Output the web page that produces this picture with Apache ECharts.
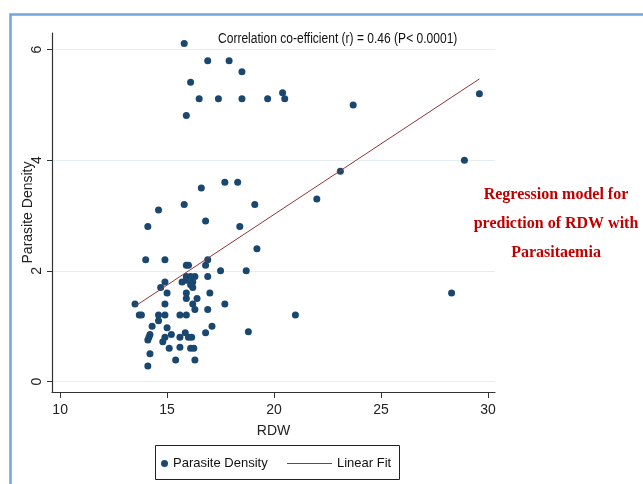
<!DOCTYPE html>
<html>
<head>
<meta charset="utf-8">
<script src="https://cdn.jsdelivr.net/npm/echarts@6/dist/echarts.min.js"></script>
<style>
  html, body { margin: 0; padding: 0; background: #fff; }
  #chart { width: 643px; height: 484px; }
</style>
</head>
<body>
<div id="chart"></div>
<script>
// RDW vs parasite density
var rdw = [
  15.8, 16.9, 17.9, 18.5, 16.1, 16.5, 17.4, 18.5, 19.7, 20.4, 20.5, 15.9, 23.7, 29.6, 28.9, 23.1,
  22.0, 17.7, 18.3, 16.6, 15.8, 14.6, 19.1, 14.1, 16.8, 18.4, 19.2, 14.0, 14.9, 15.9, 16.0, 16.8,
  16.9, 17.5, 18.7, 28.3, 21.0, 18.8, 17.7, 17.0, 16.9, 16.9, 17.1, 16.8,
  13.5, 13.7, 13.8, 14.6, 14.6, 14.9, 14.9, 15.0, 14.7, 14.9, 15.7, 15.9, 16.1, 16.3, 16.2, 16.2,
  15.9, 15.9, 16.2, 16.3, 16.4, 15.6, 15.9, 14.3, 14.2, 14.1, 14.15, 15.0, 14.9, 14.8, 15.2, 15.1,
  15.6, 15.6, 15.85, 16.0, 16.15, 16.1, 16.25, 14.2, 14.1, 15.4, 16.3, 15.9, 16.1
];
var density = [
  6.11, 5.8, 5.8, 5.6, 5.41, 5.11, 5.11, 5.11, 5.11, 5.22, 5.11, 4.81, 5.0, 5.2, 4.0, 3.8,
  3.3, 3.6, 3.6, 3.5, 3.2, 3.1, 3.2, 2.8, 2.9, 2.8, 2.4, 2.2, 2.2, 2.1, 2.1, 2.1,
  2.2, 2.0, 2.0, 1.6, 1.2, 0.9, 1.4, 1.6, 1.9, 1.3, 1.0, 0.88,
  1.4, 1.2, 1.2, 1.2, 1.1, 1.2, 1.4, 1.6, 1.7, 1.8, 1.8, 1.9, 1.9, 1.9, 1.8, 1.7,
  1.6, 1.5, 1.4, 1.3, 1.5, 1.2, 1.2, 1.0, 0.85, 0.75, 0.8, 0.97, 0.8, 0.72, 0.85, 0.6,
  0.8, 0.62, 0.88, 0.8, 0.8, 0.6, 0.6, 0.5, 0.28, 0.39, 0.39, 1.83, 1.75
];
// fitted line end points
var fitX = [13.5, 29.6];
var fitY = [1.36, 5.47];
var xTicks = [10, 15, 20, 25, 30];
var yTicks = [0, 2, 4, 6];

var sans = 'Liberation Sans, Arial, sans-serif';
var axisColor = '#333';

var points = rdw.map(function (x, i) { return [x, density[i]]; });
var fitLine = fitX.map(function (x, i) { return [x, fitY[i]]; });

var chart = echarts.init(document.getElementById('chart'));
chart.setOption({
  backgroundColor: '#fff',
  animation: false,
  grid: { left: 52, right: 148, top: 33, bottom: 92 },
  xAxis: {
    type: 'value',
    min: 9.62,
    max: 30.33,
    name: 'RDW',
    nameLocation: 'middle',
    nameGap: 32,
    nameTextStyle: { fontFamily: sans, fontSize: 14, color: '#222' },
    axisLine: { onZero: false, lineStyle: { color: axisColor, width: 1.2 } },
    axisTick: { show: true, length: 6, customValues: xTicks, lineStyle: { color: axisColor } },
    axisLabel: { customValues: xTicks, fontFamily: sans, fontSize: 14, color: '#222', margin: 11 },
    splitLine: { show: false }
  },
  yAxis: {
    type: 'value',
    min: -0.19,
    max: 6.3,
    name: 'Parasite Density',
    nameLocation: 'middle',
    nameGap: 17,
    nameRotate: 90,
    nameMoveOverlap: false,
    nameTextStyle: { fontFamily: sans, fontSize: 14, color: '#222' },
    axisLine: { show: true, onZero: false, lineStyle: { color: axisColor, width: 1.2 } },
    axisTick: { show: true, length: 5, customValues: yTicks, lineStyle: { color: axisColor } },
    axisLabel: { customValues: yTicks, rotate: 90, fontFamily: sans, fontSize: 14, color: '#222', margin: 8 },
    splitLine: { show: true, lineStyle: { color: '#e4eef0', width: 1 } }
  },
  legend: [
    {
      data: ['Parasite Density'],
      left: 156, top: 452,
      itemWidth: 7, itemHeight: 7, itemGap: 6,
      textStyle: { fontFamily: sans, fontSize: 13, color: '#111' }
    },
    {
      data: [{ name: 'Linear Fit', icon: 'rect' }],
      left: 282, top: 452,
      itemWidth: 45, itemHeight: 1.2,
      textStyle: { fontFamily: sans, fontSize: 13, color: '#111' }
    }
  ],
  graphic: [
    {
      type: 'rect', left: 8, top: 12, silent: true,
      shape: { width: 660, height: 500 },
      style: { fill: 'none', stroke: '#6fa6dc', lineWidth: 2.5 }
    },
    {
      type: 'rect', left: 153, top: 443, silent: true,
      shape: { width: 244, height: 34 },
      style: { fill: 'none', stroke: '#222', lineWidth: 1 }
    },
    {
      type: 'text', x: 218, y: 32, scaleX: 0.86, silent: true,
      style: {
        text: 'Correlation co-efficient (r) = 0.46 (P< 0.0001)',
        font: '14px ' + sans, fill: '#111'
      }
    },
    {
      type: 'text', x: 556, y: 180, silent: true,
      style: {
        text: 'Regression model for\nprediction of RDW with\nParasitaemia',
        font: 'bold 16px Liberation Serif, Times New Roman, serif',
        fill: '#c00000', align: 'center', lineHeight: 29
      }
    }
  ],
  series: [
    {
      name: 'Parasite Density',
      type: 'scatter',
      data: points,
      symbol: 'circle',
      symbolSize: 7,
      itemStyle: { color: '#1a476f', opacity: 1 }
    },
    {
      name: 'Linear Fit',
      type: 'line',
      data: fitLine,
      symbol: 'none',
      lineStyle: { color: '#90353b', width: 1 },
      itemStyle: { color: '#90353b' }
    }
  ]
});
</script>
</body>
</html>
